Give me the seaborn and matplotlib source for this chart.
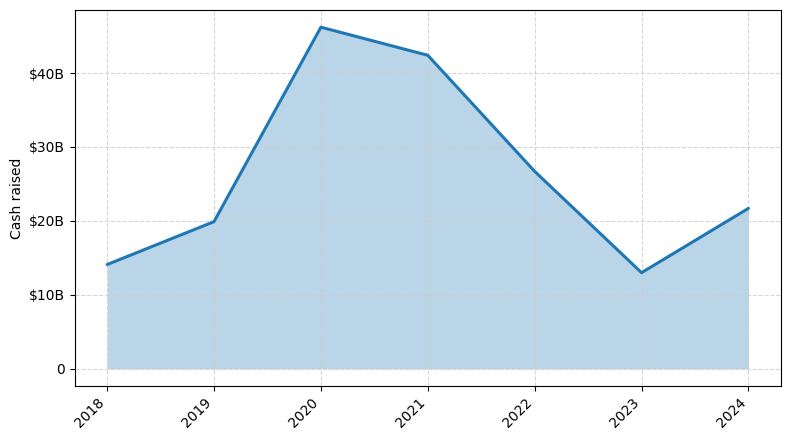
import matplotlib
matplotlib.use("Agg")
import matplotlib.pyplot as plt
import seaborn as sns
import pandas as pd
from matplotlib.ticker import FuncFormatter

years = [2018, 2019, 2020, 2021, 2022, 2023, 2024]
cash_raised_b = [14.1, 19.9, 46.2, 42.4, 26.7, 13.0, 21.7]

df = pd.DataFrame({"year": years, "cash": cash_raised_b})

sns.set_style("ticks", {"text.color": "black", "axes.labelcolor": "black",
                        "xtick.color": "black", "ytick.color": "black",
                        "axes.edgecolor": "black"})
plt.rcParams['font.family'] = ['DejaVu Sans']

fig, ax = plt.subplots(figsize=(7.9, 4.4), dpi=100)
sns.lineplot(data=df, x="year", y="cash", ax=ax, color="#1f77b4", linewidth=2.2, zorder=3)
ax.fill_between(df["year"], df["cash"], color="#1f77b4", alpha=0.3, linewidth=0, zorder=1)

ax.set_axisbelow(False)
ax.grid(True, linestyle="--", color="#cccccc", alpha=0.8, linewidth=0.8)
ax.set_xticks(years)
ax.set_xticklabels([str(y) for y in years], rotation=45, ha="right")

def fmt(v, pos):
    if v == 0:
        return "0"
    return f"${v:.0f}B"
ax.yaxis.set_major_formatter(FuncFormatter(fmt))
ax.set_xlabel("")
ax.set_ylabel("Cash raised")
for s in ax.spines.values():
    s.set_visible(True)
    s.set_color("black")

fig.subplots_adjust(left=0.095, right=0.988, top=0.977, bottom=0.123)
fig.savefig("out.png", dpi=100)
